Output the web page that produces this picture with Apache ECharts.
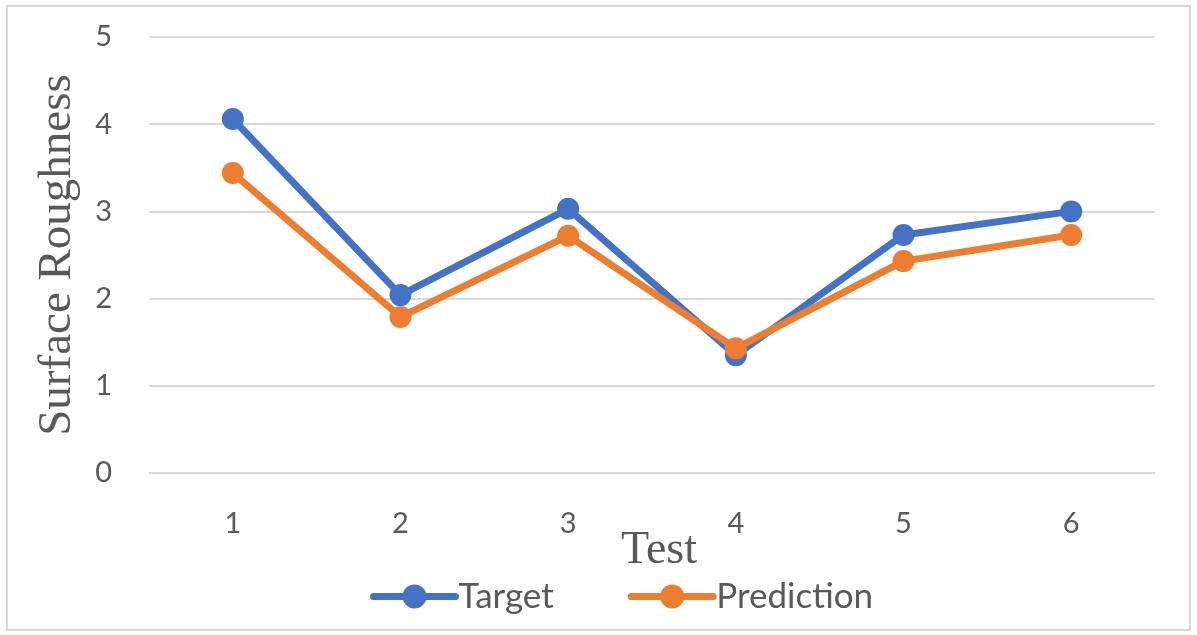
<!DOCTYPE html>
<html>
<head>
<meta charset="utf-8">
<script src="https://cdn.jsdelivr.net/npm/echarts@6/dist/echarts.min.js"></script>
<style>html,body{margin:0;padding:0;background:#fff;}#c{width:1197px;height:635px;}</style>
</head>
<body>
<div id="c"></div>
<script>
const categories = ['1', '2', '3', '4', '5', '6'];
const targetValues = [4.06, 2.04, 3.03, 1.35, 2.73, 3.0];
const predictionValues = [3.44, 1.79, 2.72, 1.43, 2.43, 2.73];
const yTicks = [0, 1, 2, 3, 4, 5];

const chart = echarts.init(document.getElementById('c'));
const textColor = '#595959';
chart.setOption({
  animation: false,
  backgroundColor: '#fff',
  graphic: [{
    type: 'rect', shape: {x: 7, y: 6, width: 1183, height: 624},
    style: {fill: 'none', stroke: '#d9d9d9', lineWidth: 2}, silent: true
  }],
  grid: {left: 149, right: 42, top: 37, bottom: 162},
  legend: {
    left: 365, top: 574,
    itemWidth: 82, itemHeight: 30, itemGap: 74,
    lineStyle: {width: 7, cap: 'round'},
    textStyle: {color: textColor, fontSize: 35, fontFamily: 'Lato', padding: [0, 0, 0, -2]},
    data: ['Target', 'Prediction']
  },
  xAxis: {
    type: 'category', data: categories, boundaryGap: true,
    name: 'Test', nameLocation: 'middle', nameGap: 55, nameMoveOverlap: false,
    nameTextStyle: {fontFamily: 'Liberation Serif', fontSize: 46, color: textColor, padding: [0, 0, 0, 14]},
    axisLine: {show: false}, axisTick: {show: false},
    axisLabel: {color: textColor, fontSize: 29, fontFamily: 'Lato', margin: 36}
  },
  yAxis: {
    type: 'value', min: yTicks[0], max: yTicks[yTicks.length - 1], interval: 1,
    name: 'Surface Roughness', nameLocation: 'middle', nameGap: 68, nameMoveOverlap: false,
    nameTextStyle: {fontFamily: 'Liberation Serif', fontSize: 47, color: textColor},
    axisLine: {show: false}, axisTick: {show: false},
    axisLabel: {color: textColor, fontSize: 29, fontFamily: 'Lato', margin: 37},
    splitLine: {lineStyle: {color: '#d9d9d9', width: 2}}
  },
  series: [
    {
      name: 'Target', type: 'line', data: targetValues,
      symbol: 'circle', symbolSize: 22,
      lineStyle: {color: '#4472C4', width: 7},
      itemStyle: {color: '#4472C4'}
    },
    {
      name: 'Prediction', type: 'line', data: predictionValues,
      symbol: 'circle', symbolSize: 22,
      lineStyle: {color: '#ED7D31', width: 7},
      itemStyle: {color: '#ED7D31'}
    }
  ]
});
</script>
</body>
</html>
